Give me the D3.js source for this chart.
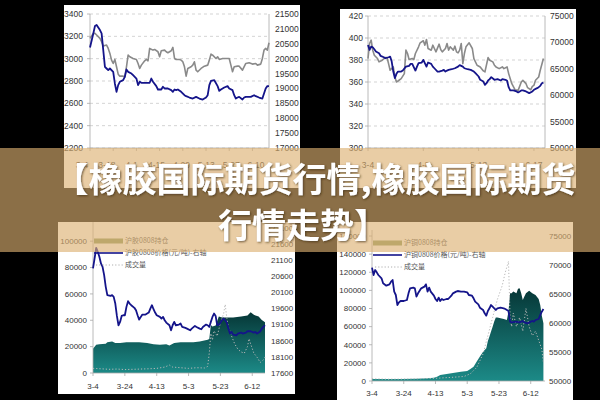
<!DOCTYPE html>
<html><head><meta charset="utf-8">
<script src="https://cdn.jsdelivr.net/npm/d3@7"></script>
<style>html,body{margin:0;padding:0;background:#000;}svg{display:block;}</style>
</head><body>
<svg id="chart" width="600" height="400"></svg>
<script>
// ---------------- DATA (day offset from 3-4, value) ----------------
const startDate = "2008-03-04";

const p1LeftTicks = [2200, 2400, 2600, 2800, 3000, 3200, 3400];
const p1RightTicks = [17000, 17500, 18000, 18500, 19000, 19500, 20000, 20500, 21000, 21500];
const p1XLabels = ["3-4", "3-18", "4-1", "4-15", "4-29", "5-13", "5-27", "6-10"];
const p1Navy = [[0,3100],[2,3226],[3,3292],[4,3301],[6,3256],[7,3226],[8,3077],[9,2927],[10,2912],[11,2897],[12,2912],[14,2882],[15,2778],[16,2703],[17,2763],[18,2793],[20,2808],[21,2837],[22,2903],[23,2882],[25,2867],[26,2852],[28,2822],[29,2763],[30,2793],[31,2784],[34,2784],[36,2784],[37,2822],[38,2793],[40,2754],[41,2724],[43,2724],[44,2748],[45,2733],[47,2733],[49,2718],[50,2703],[51,2724],[52,2718],[53,2724],[55,2703],[57,2673],[58,2664],[60,2652],[62,2643],[64,2658],[66,2643],[68,2634],[70,2652],[71,2673],[72,2763],[73,2801],[75,2807],[77,2754],[78,2712],[79,2724],[81,2742],[83,2754],[84,2733],[86,2718],[87,2673],[88,2643],[89,2652],[90,2658],[92,2634],[93,2652],[94,2658],[97,2658],[99,2673],[100,2664],[102,2652],[104,2643],[105,2688],[106,2733],[107,2754],[108,2754]];
const p1Gray = [[0,20681],[2,20849],[3,20849],[4,20793],[6,20681],[7,20569],[8,20423],[10,20456],[11,20344],[12,20176],[13,19951],[14,19839],[15,19974],[16,19727],[17,19480],[18,19413],[20,19413],[21,19390],[22,19727],[23,20120],[24,20064],[26,20007],[28,19974],[29,19839],[30,19671],[31,19783],[33,19929],[34,19974],[35,19929],[36,20344],[38,20288],[39,20310],[41,20232],[42,20064],[43,20266],[45,20288],[46,20232],[47,20198],[49,20266],[50,20378],[51,20007],[52,19974],[54,19974],[55,19951],[56,19895],[57,19727],[58,19413],[59,19671],[61,19727],[62,19783],[63,19895],[64,19615],[65,19559],[67,19671],[69,19749],[71,19783],[72,19951],[73,20153],[74,20120],[76,20007],[77,20064],[78,19974],[80,20007],[82,20007],[84,20007],[85,19783],[86,19559],[87,19727],[89,19749],[90,19749],[92,19615],[94,19839],[96,19862],[98,19817],[100,19839],[101,19783],[103,19817],[104,20007],[105,20288],[106,20344],[107,20288],[108,20535]];

const p2LeftTicks = [300, 320, 340, 360, 380, 400, 420];
const p2RightTicks = [50000, 55000, 60000, 65000, 70000, 75000];
const p2XLabels = ["3-4", "4-8", "5-13", "6-17"];
const p2Navy = [[0,393.7],[1,389.2],[2,392.2],[3,391.6],[4,389.8],[5,387.7],[7,386.1],[8,383.7],[10,382.5],[11,381.6],[13,382.5],[14,383.1],[15,378.6],[16,369.5],[17,363.5],[18,367.4],[19,369.5],[21,369.5],[22,370.4],[24,374.0],[26,374.7],[27,376.5],[28,376.5],[30,370.4],[31,374.0],[32,377.1],[34,377.7],[35,380.1],[37,374.0],[38,377.7],[40,376.5],[41,374.0],[42,372.5],[44,369.5],[45,369.5],[47,370.4],[48,371.0],[49,369.5],[50,370.4],[51,371.0],[53,371.6],[55,372.5],[57,374.0],[58,375.3],[60,374.0],[61,372.5],[63,371.6],[65,371.0],[67,369.5],[68,368.0],[70,365.0],[71,362.0],[73,360.4],[74,357.4],[75,358.9],[76,361.4],[77,362.6],[78,364.4],[80,362.0],[82,362.6],[84,361.4],[85,362.6],[87,362.0],[88,361.1],[89,355.3],[90,352.3],[92,352.3],[94,351.4],[95,350.5],[97,352.3],[98,352.3],[100,351.4],[102,349.9],[104,351.4],[105,352.9],[107,354.4],[108,355.3],[109,356.5],[110,358.9],[111,359.5]];
const p2Gray = [[0,66942],[1,69797],[2,70432],[3,68528],[4,67576],[6,66942],[7,66307],[9,66625],[11,67132],[12,67132],[13,65990],[14,64721],[16,65356],[17,63452],[18,62500],[19,62691],[21,63135],[23,64087],[24,68528],[25,67894],[26,66752],[28,66942],[29,66752],[30,67894],[32,69163],[33,69924],[35,70305],[36,69480],[37,70559],[38,68845],[40,68528],[41,69480],[42,68845],[43,68211],[45,69670],[46,68655],[47,68211],[49,68845],[50,69797],[51,68528],[52,69163],[54,68528],[55,69290],[56,68211],[57,68021],[58,68528],[59,69797],[60,65990],[61,67894],[62,69163],[64,69924],[66,68845],[67,66942],[69,65673],[71,65356],[73,64594],[74,64404],[76,67132],[77,66625],[79,66307],[80,65673],[81,65356],[83,65038],[85,65356],[86,65038],[88,65356],[89,64087],[91,62183],[93,61041],[95,60914],[97,62500],[98,62817],[100,62183],[101,61422],[103,61041],[104,61676],[105,61866],[106,62817],[108,63452],[109,64721],[111,66942]];

const p3LeftTicks = [0, 20000, 40000, 60000, 80000, 100000];
const p3RightTicks = [17600, 18100, 18600, 19100, 19600, 20100, 20600, 21100, 21600, 22100];
const p3XLabels = ["3-4", "3-24", "4-13", "5-3", "5-23", "6-12"];
const p3Legend = ["沪胶0808持仓", "沪胶0808价格(元/吨)-右轴", "成交量"];
const p3Price = [[0,20844],[1,21154],[2,21486],[3,21362],[4,21206],[5,20999],[6,20895],[7,20636],[8,20274],[9,20015],[11,19994],[12,20015],[13,19963],[14,19755],[15,19372],[16,19082],[17,19186],[18,19372],[19,19393],[20,19393],[21,19652],[22,19828],[23,19756],[24,19704],[26,19621],[27,19548],[28,19393],[29,19258],[30,19341],[31,19414],[33,19414],[35,19476],[36,19600],[37,19704],[38,19579],[39,19476],[40,19393],[42,19341],[43,19289],[44,19341],[45,19237],[46,19165],[48,19082],[49,18926],[50,19082],[51,19186],[52,19082],[54,19103],[55,19134],[56,19030],[58,18999],[59,18978],[61,18926],[62,18978],[64,19061],[65,19030],[67,18978],[68,18958],[69,19030],[71,19103],[72,19082],[73,19030],[74,19186],[75,19341],[76,19445],[77,19372],[78,19082],[79,19103],[80,19165],[81,19237],[82,19289],[83,19237],[84,19165],[85,18978],[86,18823],[87,18875],[88,18792],[90,18771],[91,18823],[93,18854],[94,18823],[96,18854],[97,18895],[99,18895],[101,18854],[102,18875],[103,18823],[104,18854],[105,18895],[106,18978],[107,19030],[108,19082]];
const p3OpenInt = [[0,18400],[2,21400],[4,21900],[8,22200],[9,23400],[12,23900],[14,22700],[17,22700],[21,23400],[25,23400],[29,23400],[34,22700],[38,21900],[42,21400],[46,21900],[48,20900],[51,22700],[55,23400],[59,23400],[63,23400],[67,23900],[72,25200],[73,25700],[74,36500],[75,35300],[77,36000],[79,42800],[81,42100],[84,42100],[88,42100],[93,42800],[97,43600],[99,46100],[101,44100],[104,42800],[106,40300],[108,38500]];
const p3Volume = [[0,3500],[5,3200],[10,2800],[15,3000],[20,2600],[25,2800],[30,3000],[35,3200],[40,3500],[45,4500],[48,6000],[50,4500],[55,4000],[60,3500],[65,4000],[70,3800],[72,5000],[73,15000],[74,30000],[75,25000],[76,32000],[78,28000],[80,38000],[82,45000],[83,52000],[84,42000],[85,35000],[87,28000],[89,22000],[91,18000],[93,16000],[95,15000],[97,20000],[98,26000],[99,22000],[101,15000],[103,12000],[105,8000],[107,10000],[108,12000]];

const p4LeftTicks = [0, 20000, 40000, 60000, 80000, 100000, 120000, 140000, 160000];
const p4RightTicks = [50000, 55000, 60000, 65000, 70000, 75000];
const p4XLabels = ["3-4", "3-24", "4-13", "5-3", "5-23", "6-12"];
const p4Legend = ["沪铜0808持仓", "沪铜0808价格(元/吨)-右轴", "成交量"];
const p4Price = [[0,69540],[1,68276],[2,69138],[3,68735],[4,68276],[6,67701],[7,66839],[9,66436],[11,66666],[12,67126],[13,67413],[14,65402],[15,64827],[16,63103],[17,63563],[18,63793],[20,63793],[22,63965],[23,65114],[24,65977],[26,66092],[27,65977],[28,64540],[29,65114],[31,65977],[33,66264],[34,66666],[35,65402],[36,66092],[37,65402],[39,64712],[40,64138],[41,63793],[42,64368],[43,63793],[44,64138],[45,63965],[47,64138],[48,64138],[50,64712],[51,65114],[53,65402],[54,65517],[56,65402],[58,65402],[60,65287],[61,64827],[63,64712],[64,64253],[65,63678],[67,63218],[68,62643],[70,62241],[71,61667],[72,61264],[73,62069],[74,62529],[75,63103],[76,62816],[78,62241],[79,62529],[81,62643],[83,62529],[84,62414],[86,62069],[87,60230],[88,60115],[91,60230],[93,60115],[95,60345],[96,60115],[98,59943],[100,60230],[101,60345],[102,60230],[103,60517],[105,60689],[106,61379],[107,61954],[108,62414]];
const p4OpenInt = [[0,2200],[9,2200],[18,2200],[28,2600],[35,2900],[39,3700],[41,4800],[43,6600],[47,7700],[52,9200],[56,10300],[60,11000],[62,13300],[64,15800],[66,21400],[68,26900],[70,32400],[72,36100],[73,44200],[74,49000],[75,54500],[76,60000],[77,65600],[78,70000],[79,70000],[81,69300],[83,68500],[85,67400],[86,76600],[87,96900],[88,96900],[89,98700],[91,96900],[92,101700],[93,102400],[94,96900],[95,89500],[96,93200],[97,96900],[99,99500],[101,96900],[103,95000],[105,90600],[106,84000],[107,72000],[108,63700]];
const p4Volume = [[0,2500],[10,2000],[20,2200],[30,2500],[40,3000],[50,4000],[58,5000],[62,8000],[66,15000],[70,30000],[73,50000],[76,70000],[79,90000],[82,105000],[84,120000],[86,132000],[87,70000],[88,60000],[89,75000],[91,60000],[93,70000],[95,55000],[97,80000],[99,60000],[101,50000],[103,55000],[105,45000],[107,35000],[108,20000]];

const bannerLines = ["【橡胶国际期货行情,橡胶国际期货", "行情走势】"];

// ---------------- DRAWING ----------------
const svg = d3.select("#chart");
const t0 = d3.timeParse("%Y-%m-%d")(startDate);
const dayDate = d => d3.timeDay.offset(t0, d);
const labelDate = s => { const [m, d] = s.split("-").map(Number); return new Date(2008, m - 1, d); };
const FONT = "'Liberation Sans', Arial, sans-serif";
const CJK = "'Noto Sans CJK SC', sans-serif";
const NAVY = "#14148a", GRAYL = "#8a8a8a";

const defs = svg.append("defs");
const grad = defs.append("linearGradient").attr("id", "oiGrad").attr("x1", 0).attr("x2", 0).attr("y1", 0).attr("y2", 1);
grad.append("stop").attr("offset", "0%").attr("stop-color", "#063636");
grad.append("stop").attr("offset", "100%").attr("stop-color", "#1c8a87");
const shadow = defs.append("filter").attr("id", "txtShadow").attr("x", "-10%").attr("y", "-20%").attr("width", "120%").attr("height", "140%");
shadow.append("feDropShadow").attr("dx", 1).attr("dy", 1).attr("stdDeviation", 1).attr("flood-color", "#3a2a10").attr("flood-opacity", 0.7);

function panel(cfg) {
  const g = svg.append("g");
  g.append("rect").attr("x", cfg.box[0]).attr("y", cfg.box[1]).attr("width", cfg.box[2] - cfg.box[0]).attr("height", cfg.box[3] - cfg.box[1]).attr("fill", "#fff");
  const x = d3.scaleTime().domain([t0, dayDate(cfg.days)]).range([cfg.left, cfg.right]);
  const yL = d3.scaleLinear().domain(cfg.leftDomain).range([cfg.bottom, cfg.top]);
  const yR = d3.scaleLinear().domain(cfg.rightDomain).range([cfg.bottom, cfg.top]);

  if (cfg.grid) {
    g.append("g").selectAll("line").data(cfg.leftTicks).join("line")
      .attr("x1", cfg.left).attr("x2", cfg.right).attr("y1", d => yL(d)).attr("y2", d => yL(d))
      .attr("stroke", "#c8c8c8").attr("stroke-width", 0.8).attr("stroke-dasharray", "3,3");
  }
  if (cfg.area) {
    const area = d3.area().x(d => x(dayDate(d[0]))).y0(yL(0)).y1(d => yL(d[1]));
    g.append("path").datum(cfg.area).attr("d", area).attr("fill", "url(#oiGrad)");
  }
  if (cfg.volume) {
    const ln = d3.line().x(d => x(dayDate(d[0]))).y(d => yL(d[1]));
    g.append("path").datum(cfg.volume).attr("d", ln).attr("fill", "none")
      .attr("stroke", "#b8b8b8").attr("stroke-width", 1).attr("stroke-dasharray", "1.2,2");
  }
  const axisCol = "#a8a8a8";
  g.append("line").attr("x1", cfg.left).attr("x2", cfg.left).attr("y1", cfg.axisTop).attr("y2", cfg.bottom).attr("stroke", axisCol).attr("stroke-width", 0.8);
  if (cfg.rightLine) g.append("line").attr("x1", cfg.right).attr("x2", cfg.right).attr("y1", cfg.top).attr("y2", cfg.bottom).attr("stroke", axisCol).attr("stroke-width", 0.8);
  g.append("line").attr("x1", cfg.left).attr("x2", cfg.right).attr("y1", cfg.bottom).attr("y2", cfg.bottom).attr("stroke", axisCol).attr("stroke-width", 0.8);
  g.append("g").selectAll("line").data(cfg.xLabels).join("line")
    .attr("x1", d => x(labelDate(d))).attr("x2", d => x(labelDate(d)))
    .attr("y1", cfg.bottom).attr("y2", cfg.bottom + 3).attr("stroke", axisCol).attr("stroke-width", 0.8);
  g.append("g").selectAll("line").data(cfg.leftTicks).join("line")
    .attr("x1", cfg.left - 3).attr("x2", cfg.left).attr("y1", d => yL(d)).attr("y2", d => yL(d)).attr("stroke", axisCol).attr("stroke-width", 0.8);

  cfg.lines.forEach(s => {
    const ys = s.axis === "R" ? yR : yL;
    const ln = d3.line().x(d => x(dayDate(d[0]))).y(d => ys(d[1])).curve(d3.curveLinear);
    g.append("path").datum(s.data).attr("d", ln).attr("fill", "none")
      .attr("stroke", s.color).attr("stroke-width", s.width).attr("stroke-linejoin", "round");
  });

  const fs = cfg.fontSize;
  g.append("g").selectAll("text").data(cfg.leftTicks).join("text")
    .attr("x", cfg.leftLabelX).attr("y", d => yL(d)).attr("dy", "0.35em").attr("text-anchor", "end")
    .attr("font-family", FONT).attr("font-size", fs).attr("fill", "#333").text(d => d);
  g.append("g").selectAll("text").data(cfg.rightTicks).join("text")
    .attr("x", cfg.rightLabelX).attr("y", d => yR(d)).attr("dy", "0.35em").attr("text-anchor", "start")
    .attr("font-family", FONT).attr("font-size", fs).attr("fill", "#333").text(d => d);
  const xl = cfg.labelScale ? cfg.labelScale : (d => x(labelDate(d)));
  g.append("g").selectAll("text").data(cfg.xLabels).join("text")
    .attr("x", d => xl(d)).attr("y", cfg.xLabelY).attr("text-anchor", "middle")
    .attr("font-family", FONT).attr("font-size", fs).attr("fill", "#333").text(d => d);

  if (cfg.legend) {
    const lg = g.append("g");
    const [lx0, lx1, ly] = cfg.legendPos;
    lg.append("rect").attr("x", lx0).attr("y", ly - 2.5).attr("width", lx1 - lx0).attr("height", 5).attr("fill", "#8a9a62");
    lg.append("line").attr("x1", lx0).attr("x2", lx1).attr("y1", ly + 12).attr("y2", ly + 12).attr("stroke", NAVY).attr("stroke-width", 1.6);
    lg.append("line").attr("x1", lx0 + 2).attr("x2", lx1).attr("y1", ly + 24).attr("y2", ly + 24).attr("stroke", "#9a9a9a").attr("stroke-width", 0.8).attr("stroke-dasharray", "1.2,2");
    lg.selectAll("text").data(cfg.legend).join("text")
      .attr("x", lx1 + 2).attr("y", (d, i) => ly + i * 12).attr("dy", "0.35em")
      .attr("font-family", CJK).attr("font-size", 7).attr("fill", "#555").text(d => d);
  }
}

const p1LabelScale = d3.scaleTime().domain([labelDate("3-4"), labelDate("6-10")]).range([82, 256]);
panel({
  box: [64, 5, 300, 188], left: 90, right: 269, top: 14, bottom: 148, axisTop: 14, days: 108,
  leftDomain: [2200, 3400], rightDomain: [17000, 21500], leftTicks: p1LeftTicks, rightTicks: p1RightTicks,
  xLabels: p1XLabels, labelScale: d => p1LabelScale(labelDate(d)), grid: true, rightLine: true,
  leftLabelX: 83, rightLabelX: 275, xLabelY: 168, fontSize: 8.5,
  lines: [{ data: p1Gray, axis: "R", color: GRAYL, width: 1.6 }, { data: p1Navy, axis: "L", color: NAVY, width: 1.8 }]
});

panel({
  box: [340, 9, 576, 188], left: 368, right: 545, top: 16, bottom: 148, axisTop: 16, days: 112,
  leftDomain: [300, 420], rightDomain: [50000, 75000], leftTicks: p2LeftTicks, rightTicks: p2RightTicks,
  xLabels: p2XLabels, grid: true, rightLine: true,
  leftLabelX: 363, rightLabelX: 550, xLabelY: 168, fontSize: 8.5,
  lines: [{ data: p2Gray, axis: "R", color: GRAYL, width: 1.6 }, { data: p2Navy, axis: "L", color: NAVY, width: 1.8 }]
});

panel({
  box: [58, 222, 295, 394], left: 93, right: 265, top: 228, bottom: 373, axisTop: 222, days: 108,
  leftDomain: [0, 110000], rightDomain: [17600, 22100], leftTicks: p3LeftTicks, rightTicks: p3RightTicks,
  xLabels: p3XLabels, grid: false, rightLine: false,
  leftLabelX: 87, rightLabelX: 271, xLabelY: 389, fontSize: 8,
  area: p3OpenInt, volume: p3Volume, legend: p3Legend, legendPos: [94, 123, 241],
  lines: [{ data: p3Price, axis: "R", color: NAVY, width: 1.8 }]
});

panel({
  box: [337, 222, 573, 400], left: 372, right: 545, top: 236, bottom: 381, axisTop: 230, days: 109,
  leftDomain: [0, 160000], rightDomain: [50000, 75000], leftTicks: p4LeftTicks, rightTicks: p4RightTicks,
  xLabels: p4XLabels, grid: false, rightLine: false,
  leftLabelX: 366, rightLabelX: 549, xLabelY: 396, fontSize: 8,
  area: p4OpenInt, volume: p4Volume, legend: p4Legend, legendPos: [373, 402, 243],
  lines: [{ data: p4Price, axis: "R", color: NAVY, width: 1.8 }]
});

// Banner overlay
svg.append("rect").attr("x", 0).attr("y", 148).attr("width", 600).attr("height", 104)
  .attr("fill", "rgb(220,176,112)").attr("fill-opacity", 0.63);
svg.append("g").attr("filter", "url(#txtShadow)").selectAll("text").data(bannerLines).join("text")
  .attr("x", (d, i) => i === 0 ? 315 : 303).attr("y", (d, i) => 192 + i * 46).attr("text-anchor", "middle")
  .attr("font-family", CJK).attr("font-weight", 700).attr("font-size", 34).attr("fill", "#fff")
  .text(d => d);
</script>
</body></html>
